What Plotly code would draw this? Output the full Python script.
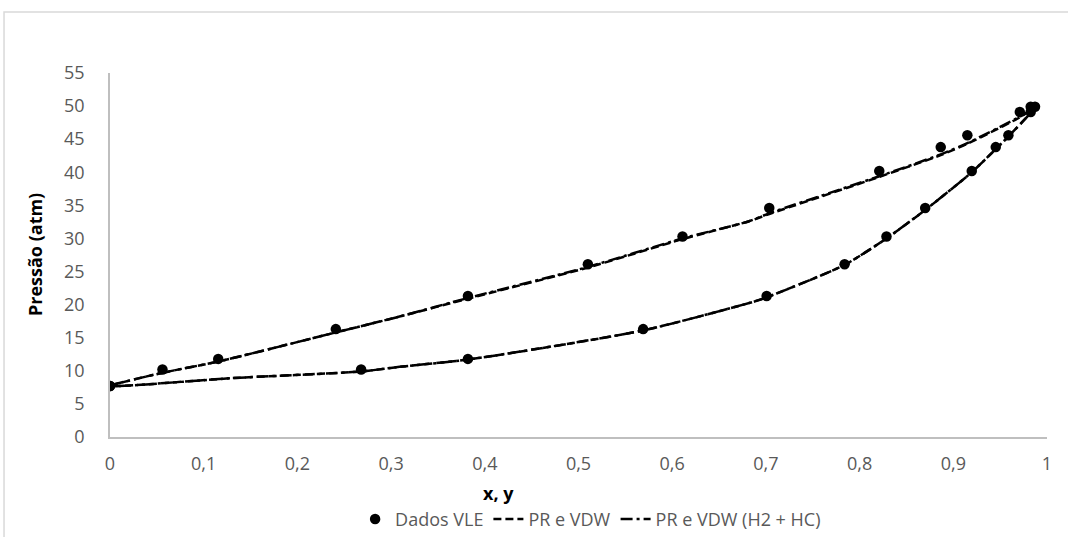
import plotly.graph_objects as go

# Experimental VLE data (vapour branch y and liquid branch x)
vle_y = [0, 0.056, 0.1155, 0.241, 0.382, 0.51, 0.611, 0.7036, 0.821, 0.8866, 0.915, 0.971, 0.9872]
vle_y_p = [7.7, 10.2, 11.8, 16.3, 21.3, 26.1, 30.3, 34.6, 40.2, 43.8, 45.6, 49.1, 49.9]
vle_x = [0, 0.268, 0.382, 0.569, 0.7008, 0.784, 0.8287, 0.87, 0.9197, 0.9453, 0.9588, 0.9826, 0.9826]
vle_x_p = [7.7, 10.2, 11.8, 16.3, 21.3, 26.1, 30.3, 34.6, 40.2, 43.8, 45.6, 49.1, 49.9]

# Model PR e VDW: dew curve then bubble curve
pr_dew_x = [0, 0.056, 0.1155, 0.241, 0.309, 0.382, 0.51, 0.611, 0.682, 0.7036, 0.821, 0.8866, 0.915, 0.971, 0.985]
pr_dew_p = [7.7, 9.7, 11.4, 15.8, 18.2, 20.9, 25.6, 29.9, 32.6, 33.7, 39.3, 42.6, 44.3, 48.3, 49.6]
pr_bub_x = [0.985, 0.9826, 0.9588, 0.9453, 0.9197, 0.87, 0.8287, 0.784, 0.7008, 0.686, 0.569, 0.382, 0.309, 0.268, 0.131, 0]
pr_bub_p = [49.6, 49.0, 45.4, 43.5, 40.0, 34.3, 30.0, 26.0, 21.1, 20.4, 16.1, 11.7, 10.6, 9.9, 8.9, 7.7]

# Model PR e VDW (H2 + HC)
hc_dew_x = [0, 0.056, 0.1155, 0.241, 0.309, 0.382, 0.51, 0.611, 0.682, 0.7036, 0.821, 0.8866, 0.915, 0.971, 0.985]
hc_dew_p = [7.7, 9.7, 11.4, 15.8, 18.2, 21.0, 25.7, 30.0, 32.6, 33.8, 39.4, 42.7, 44.4, 48.4, 49.6]
hc_bub_x = [0.985, 0.9826, 0.9588, 0.9453, 0.9197, 0.87, 0.8287, 0.784, 0.7008, 0.686, 0.569, 0.382, 0.309, 0.268, 0.131, 0]
hc_bub_p = [49.6, 49.0, 45.4, 43.5, 40.0, 34.3, 30.0, 26.0, 21.1, 20.4, 16.1, 11.7, 10.6, 9.9, 8.9, 7.7]

x_ticks = [0, 0.1, 0.2, 0.3, 0.4, 0.5, 0.6, 0.7, 0.8, 0.9, 1]
x_tick_text = ["0", "0,1", "0,2", "0,3", "0,4", "0,5", "0,6", "0,7", "0,8", "0,9", "1"]
y_ticks = list(range(0, 56, 5))

FONT = "Open Sans"
GRAY = "#595959"

fig = go.Figure()

fig.add_trace(go.Scatter(
    x=pr_dew_x + pr_bub_x, y=pr_dew_p + pr_bub_p, mode="lines",
    name="PR e VDW", legendrank=2,
    line=dict(color="black", width=2.5, dash="8px,4px", shape="spline", smoothing=0.6),
))
fig.add_trace(go.Scatter(
    x=hc_dew_x + hc_bub_x, y=hc_dew_p + hc_bub_p, mode="lines",
    name="PR e VDW (H2 + HC)", legendrank=3,
    line=dict(color="black", width=2.5, dash="12px,4px,3px,4px", shape="spline", smoothing=0.6),
))
fig.add_trace(go.Scatter(
    x=vle_y + vle_x, y=vle_y_p + vle_x_p, mode="markers",
    name="Dados VLE", legendrank=1, marker=dict(color="black", size=10.5),
))

fig.update_layout(
    width=1068, height=537,
    margin=dict(l=110, r=21, t=73, b=100),
    paper_bgcolor="white", plot_bgcolor="white",
    font=dict(family=FONT, size=18, color=GRAY),
    showlegend=True,
    legend=dict(orientation="h", x=0.553, xanchor="center", xref="container",
                y=0.033, yanchor="middle", yref="container",
                font=dict(family=FONT, size=18, color=GRAY), tracegroupgap=0),
    xaxis=dict(range=[0, 1], tickvals=x_ticks, ticktext=x_tick_text, showgrid=False,
               showline=True, linecolor="#bfbfbf", linewidth=1.5, zeroline=False,
               ticks="", ticklabelstandoff=10),
    yaxis=dict(range=[0, 55], tickvals=y_ticks, showgrid=False,
               showline=True, linecolor="#bfbfbf", linewidth=1.5, zeroline=False,
               ticks="", ticklabelstandoff=20),
    shapes=[dict(type="rect", xref="paper", yref="paper", x0=-0.1131, x1=1.2, y0=-0.6, y1=1.1676,
                 line=dict(color="#d9d9d9", width=1.5), fillcolor="rgba(0,0,0,0)", layer="below")],
    annotations=[
        dict(text="<b>x, y</b>", xref="paper", yref="paper", x=0.415, y=-0.154, showarrow=False,
             font=dict(family=FONT, size=18, color="black"), xanchor="center", yanchor="middle"),
        dict(text="<b>Pressão (atm)</b>", xref="paper", yref="paper", x=-0.08, y=0.5, showarrow=False,
             textangle=-90, font=dict(family=FONT, size=18, color="black"), xanchor="center", yanchor="middle"),
    ],
)

fig.write_html("out.html")
